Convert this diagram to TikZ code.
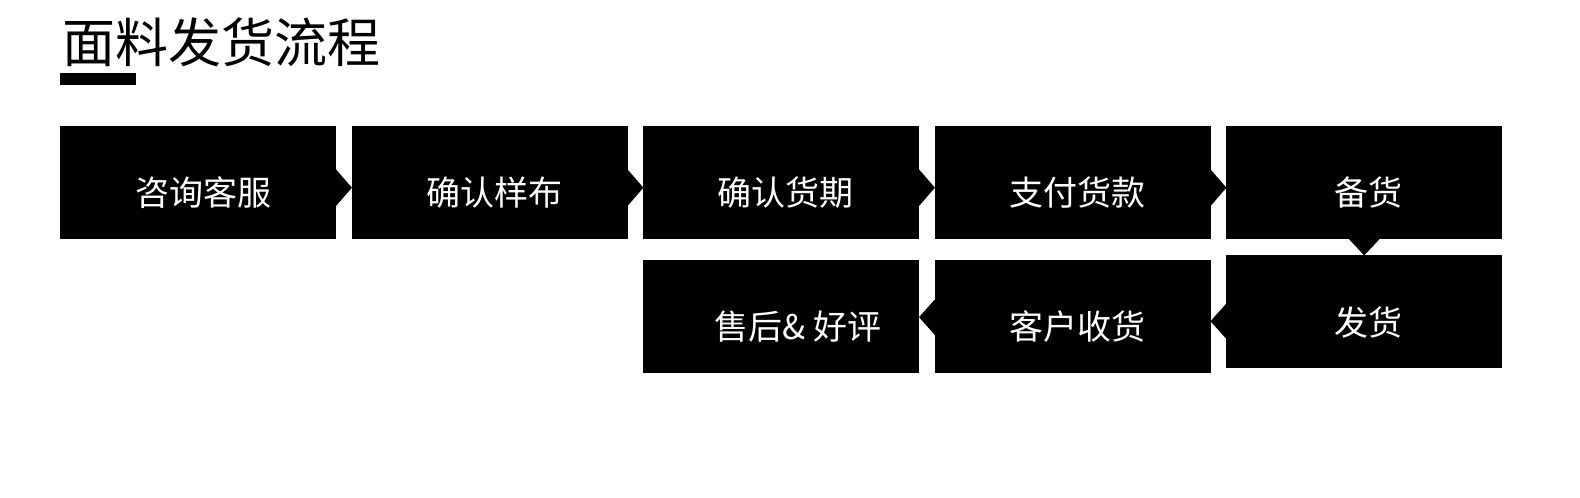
\documentclass[tikz,border=0pt]{standalone}
\usepackage{fontspec}
\newfontfamily\cjk{Noto Sans CJK SC}
\usetikzlibrary{calc}
\begin{document}
\begin{tikzpicture}[x=1bp,y=-1bp,
  box/.style={fill=black,draw=none,minimum width=276bp,minimum height=113bp,inner sep=0pt,anchor=north west},
  lbl/.style={text=white,inner sep=0pt,font=\cjk\fontsize{34bp}{40bp}\selectfont},
  tri/.style={fill=black}]
\useasboundingbox (0,0) rectangle (1580,498);
\fill[white] (0,0) rectangle (1580,498);
% title
\node[inner sep=0pt,font=\cjk\fontsize{53bp}{60bp}\selectfont] (title) at (221.5,42) {面料发货流程};
\fill (60,73.5) rectangle (136,85.5);
% row 1
\node[box] (b1) at (60,126) {};
\node[box] (b2) at (351.5,126) {};
\node[box] (b3) at (643,126) {};
\node[box] (b4) at (934.5,126) {};
\node[box] (b5) at (1226,126) {};
% row 2
\node[box] (c3) at (643,260) {};
\node[box] (c4) at (934.5,260) {};
\node[box] (c5) at (1226,255) {};
% right-pointing notches
\foreach \n in {b1,b2,b3,b4}{
  \fill[tri] ($(\n.east)+(-1,-14)$) -- ($(\n.east)+(15.5,5)$) -- ($(\n.east)+(-1,24)$) -- cycle;
}
% down-pointing notch
\fill[tri] ($(b5.south)+(-16,-1)$) -- ($(b5.south)+(0,16)$) -- ($(b5.south)+(16,-1)$) -- cycle;
% left-pointing notches
\fill[tri] ($(c4.west)+(1,-18)$) -- ($(c4.west)+(-15.5,0.5)$) -- ($(c4.west)+(1,19)$) -- cycle;
\fill[tri] ($(c5.west)+(1,-9)$) -- ($(c5.west)+(-15.5,9.5)$) -- ($(c5.west)+(1,28)$) -- cycle;
% labels
\node[lbl] (t1) at ($(b1.center)+(5,9.5)$) {咨询客服};
\node[lbl] (t2) at ($(b2.center)+(4.5,9.5)$) {确认样布};
\node[lbl] (t3) at ($(b3.center)+(4.5,9.5)$) {确认货期};
\node[lbl] (t4) at ($(b4.center)+(4.5,9.5)$) {支付货款};
\node[lbl] (t5) at ($(b5.center)+(4.5,9.5)$) {备货};
\node[lbl] (u3) at ($(c3.center)+(17,9.5)$) {售后\& 好评};
\node[lbl] (u4) at ($(c4.center)+(4.5,9.5)$) {客户收货};
\node[lbl] (u5) at ($(c5.center)+(4.5,11)$) {发货};
\end{tikzpicture}
\end{document}
